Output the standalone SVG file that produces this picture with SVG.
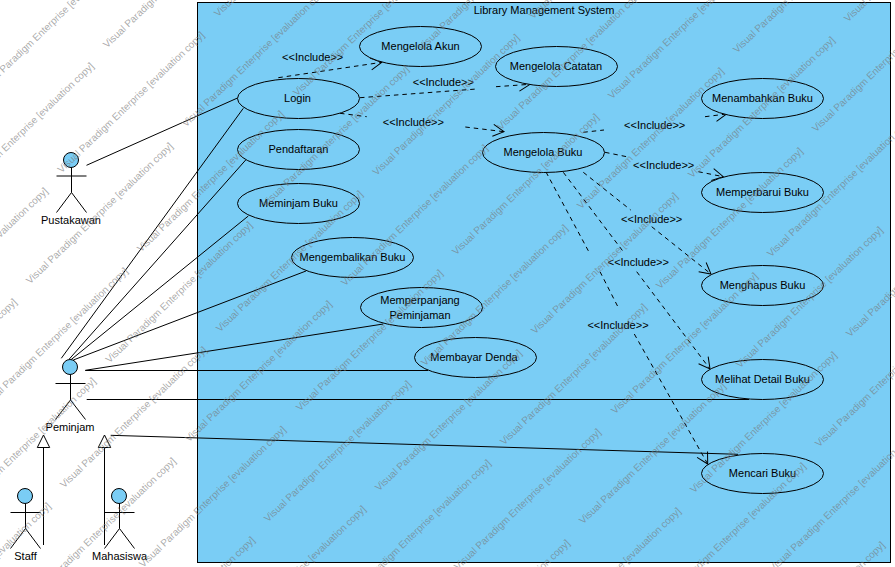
<svg xmlns="http://www.w3.org/2000/svg" width="895" height="567" viewBox="0 0 895 567">
<style>
text{font-family:"Liberation Sans",Arial,sans-serif;font-size:11px;fill:#000;text-anchor:middle}
.uc,.sys{fill:#7acdf5;stroke:#000;stroke-width:1}
.head{fill:#7acdf5;stroke:#000;stroke-width:1}
.st{fill:none;stroke:#000;stroke-width:1}
.tri{fill:#fff;stroke:#000;stroke-width:1}
.inc{fill:none;stroke:#000;stroke-width:1;stroke-dasharray:4.5 4;marker-end:url(#open)}
.wm text{font-size:10px;fill:#777;fill-opacity:.62;text-anchor:start}
</style>
<defs>
<marker id="open" markerUnits="userSpaceOnUse" markerWidth="16" markerHeight="18" refX="14" refY="8" orient="auto" overflow="visible">
<path d="M3,2 L14,8 L3,14" fill="none" stroke="#000" stroke-width="1"/>
</marker>
</defs>
<rect width="895" height="567" fill="#fff"/>
<g id="system"><rect class="sys" x="197.5" y="2.5" width="693" height="560"/><text x="544" y="13.5">Library Management System</text></g>
<g id="connectors">
<path class="st" d="M86.5,165.3L237.5,98M61.3,358.3L243.3,108.3M69.3,359L245.7,160M71,359.7L248.3,216M73.3,360L306,271M85.3,370.3L383.3,324M85.3,370.5H428M86.7,399.5H749M110.7,435.3L738,454.3"/>
<path class="st" d="M43.5,545V447.5M104.5,545V447.5"/>
<path class="tri" d="M43.5,435L37.3,447.5H49.7ZM104.5,435L98.3,447.5H110.7Z"/>
<path class="inc" d="M278.3,77.7L381.7,62.3"/>
<path class="inc" d="M360,97.7L476.7,89M496,86.7L530,84.3"/>
<path class="inc" d="M340,113.3L366.7,116.7M465.3,127L504,131.7"/>
<path class="inc" d="M583.3,132.3L604,130M705,116.7L726.7,114"/>
<path class="inc" d="M605,152.3L626.7,156.7M698.3,171.7L723.3,176.7"/>
<path class="inc" d="M583.3,172.3L630.7,210M651.7,226.7L711,274"/>
<path class="inc" d="M563.3,172.3L623.3,251.7M636.7,271.7L710,369"/>
<path class="inc" d="M546,172L589.5,253M600,271.7L618,307M634.3,334L707.7,464"/>
</g>
<g id="uc-akun"><ellipse class="uc" cx="420.5" cy="46.5" rx="61" ry="20"/><text x="420.5" y="50">Mengelola Akun</text></g>
<g id="uc-catatan"><ellipse class="uc" cx="556.5" cy="66.5" rx="61" ry="20"/><text x="556" y="70">Mengelola Catatan</text></g>
<g id="uc-login"><ellipse class="uc" cx="298.5" cy="98.5" rx="61" ry="20"/><text x="297.5" y="102">Login</text></g>
<g id="uc-pendaftaran"><ellipse class="uc" cx="298.5" cy="149.5" rx="61" ry="20"/><text x="298.5" y="153">Pendaftaran</text></g>
<g id="uc-meminjam"><ellipse class="uc" cx="298.5" cy="203.5" rx="61" ry="20"/><text x="298.5" y="207">Meminjam Buku</text></g>
<g id="uc-mengembalikan"><ellipse class="uc" cx="352.5" cy="257.5" rx="61" ry="20"/><text x="352.5" y="261">Mengembalikan Buku</text></g>
<g id="uc-memperpanjang"><ellipse class="uc" cx="421.5" cy="307.5" rx="61" ry="20"/><text x="420" y="304">Memperpanjang</text><text x="420" y="318.5">Peminjaman</text></g>
<g id="uc-membayar"><ellipse class="uc" cx="475.5" cy="357.5" rx="61" ry="20"/><text x="474" y="361">Membayar Denda</text></g>
<g id="uc-buku"><ellipse class="uc" cx="543.5" cy="152.5" rx="61" ry="20"/><text x="543" y="156">Mengelola Buku</text></g>
<g id="uc-menambahkan"><ellipse class="uc" cx="762.5" cy="98.5" rx="61" ry="20"/><text x="762.5" y="102">Menambahkan Buku</text></g>
<g id="uc-memperbarui"><ellipse class="uc" cx="762.5" cy="192.5" rx="61" ry="20"/><text x="762.5" y="196">Memperbarui Buku</text></g>
<g id="uc-menghapus"><ellipse class="uc" cx="762.5" cy="285.5" rx="61" ry="20"/><text x="762.5" y="289">Menghapus Buku</text></g>
<g id="uc-melihat"><ellipse class="uc" cx="762.5" cy="379.5" rx="61" ry="20"/><text x="762.5" y="383">Melihat Detail Buku</text></g>
<g id="uc-mencari"><ellipse class="uc" cx="762.5" cy="473.5" rx="61" ry="20"/><text x="762.5" y="477">Mencari Buku</text></g>
<g id="actor-pustakawan"><circle class="head" cx="71" cy="160" r="7.5"/><path class="st" d="M71.5,167.5V192.5M56.5,176H86.5M71.5,192.5L56.5,212.5M71.5,192.5L86.5,212.5"/><text x="71" y="224">Pustakawan</text></g>
<g id="actor-peminjam"><circle class="head" cx="70" cy="367" r="7.5"/><path class="st" d="M70.5,374.5V400M55.5,383.5H85.5M70.5,400L55.5,419.5M70.5,400L85.5,419.5"/><text x="70" y="431">Peminjam</text></g>
<g id="actor-staff"><circle class="head" cx="25" cy="496" r="7.5"/><path class="st" d="M25.5,503.5V528.5M10.5,512.5H40.5M25.5,528.5L10.5,548.5M25.5,528.5L40.5,548.5"/><text x="25.5" y="559.5">Staff</text></g>
<g id="actor-mahasiswa"><circle class="head" cx="119" cy="496" r="7.5"/><path class="st" d="M119.5,503.5V528.5M104.5,512.5H134.5M119.5,528.5L104.5,548.5M119.5,528.5L134.5,548.5"/><text x="119.5" y="559.5">Mahasiswa</text></g>
<g id="labels">
<text x="312.7" y="61">&lt;&lt;Include&gt;&gt;</text>
<text x="443.3" y="86">&lt;&lt;Include&gt;&gt;</text>
<text x="413.3" y="126">&lt;&lt;Include&gt;&gt;</text>
<text x="654.7" y="129">&lt;&lt;Include&gt;&gt;</text>
<text x="663.7" y="169">&lt;&lt;Include&gt;&gt;</text>
<text x="651.7" y="223">&lt;&lt;Include&gt;&gt;</text>
<text x="638.3" y="266">&lt;&lt;Include&gt;&gt;</text>
<text x="618" y="329">&lt;&lt;Include&gt;&gt;</text>
</g>
<g class="wm" transform="translate(4,1.5)">
<text transform="translate(-22,92.5) rotate(-43.8)">Visual Paradigm Enterprise [evaluation copy]</text>
<text transform="translate(-53,203) rotate(-43.8)">Visual Paradigm Enterprise [evaluation copy]</text>
<text transform="translate(103,47) rotate(-43.8)">Visual Paradigm Enterprise [evaluation copy]</text>
<text transform="translate(-99,328) rotate(-43.8)">Visual Paradigm Enterprise [evaluation copy]</text>
<text transform="translate(57.5,172) rotate(-43.8)">Visual Paradigm Enterprise [evaluation copy]</text>
<text transform="translate(214,15.7) rotate(-43.8)">Visual Paradigm Enterprise [evaluation copy]</text>
<text transform="translate(-130,439) rotate(-43.8)">Visual Paradigm Enterprise [evaluation copy]</text>
<text transform="translate(26,283) rotate(-43.8)">Visual Paradigm Enterprise [evaluation copy]</text>
<text transform="translate(182,126) rotate(-43.8)">Visual Paradigm Enterprise [evaluation copy]</text>
<text transform="translate(-19,408) rotate(-43.8)">Visual Paradigm Enterprise [evaluation copy]</text>
<text transform="translate(137,251) rotate(-43.8)">Visual Paradigm Enterprise [evaluation copy]</text>
<text transform="translate(293,95) rotate(-43.8)">Visual Paradigm Enterprise [evaluation copy]</text>
<text transform="translate(-51,518) rotate(-43.8)">Visual Paradigm Enterprise [evaluation copy]</text>
<text transform="translate(105.5,362) rotate(-43.8)">Visual Paradigm Enterprise [evaluation copy]</text>
<text transform="translate(262,206) rotate(-43.8)">Visual Paradigm Enterprise [evaluation copy]</text>
<text transform="translate(418,49.5) rotate(-43.8)">Visual Paradigm Enterprise [evaluation copy]</text>
<text transform="translate(-96,643) rotate(-43.8)">Visual Paradigm Enterprise [evaluation copy]</text>
<text transform="translate(60,487) rotate(-43.8)">Visual Paradigm Enterprise [evaluation copy]</text>
<text transform="translate(216,331) rotate(-43.8)">Visual Paradigm Enterprise [evaluation copy]</text>
<text transform="translate(372.5,174.5) rotate(-43.8)">Visual Paradigm Enterprise [evaluation copy]</text>
<text transform="translate(529,18) rotate(-43.8)">Visual Paradigm Enterprise [evaluation copy]</text>
<text transform="translate(29,598) rotate(-43.8)">Visual Paradigm Enterprise [evaluation copy]</text>
<text transform="translate(185,441) rotate(-43.8)">Visual Paradigm Enterprise [evaluation copy]</text>
<text transform="translate(341,285) rotate(-43.8)">Visual Paradigm Enterprise [evaluation copy]</text>
<text transform="translate(497,129) rotate(-43.8)">Visual Paradigm Enterprise [evaluation copy]</text>
<text transform="translate(139,566.5) rotate(-43.8)">Visual Paradigm Enterprise [evaluation copy]</text>
<text transform="translate(296,410) rotate(-43.8)">Visual Paradigm Enterprise [evaluation copy]</text>
<text transform="translate(452,254) rotate(-43.8)">Visual Paradigm Enterprise [evaluation copy]</text>
<text transform="translate(608,98) rotate(-43.8)">Visual Paradigm Enterprise [evaluation copy]</text>
<text transform="translate(108,677) rotate(-43.8)">Visual Paradigm Enterprise [evaluation copy]</text>
<text transform="translate(264,521) rotate(-43.8)">Visual Paradigm Enterprise [evaluation copy]</text>
<text transform="translate(421,365) rotate(-43.8)">Visual Paradigm Enterprise [evaluation copy]</text>
<text transform="translate(577,208) rotate(-43.8)">Visual Paradigm Enterprise [evaluation copy]</text>
<text transform="translate(733,52) rotate(-43.8)">Visual Paradigm Enterprise [evaluation copy]</text>
<text transform="translate(219,646) rotate(-43.8)">Visual Paradigm Enterprise [evaluation copy]</text>
<text transform="translate(375,490) rotate(-43.8)">Visual Paradigm Enterprise [evaluation copy]</text>
<text transform="translate(531,333) rotate(-43.8)">Visual Paradigm Enterprise [evaluation copy]</text>
<text transform="translate(688,177) rotate(-43.8)">Visual Paradigm Enterprise [evaluation copy]</text>
<text transform="translate(844,21) rotate(-43.8)">Visual Paradigm Enterprise [evaluation copy]</text>
<text transform="translate(344,600) rotate(-43.8)">Visual Paradigm Enterprise [evaluation copy]</text>
<text transform="translate(500,444) rotate(-43.8)">Visual Paradigm Enterprise [evaluation copy]</text>
<text transform="translate(656,288) rotate(-43.8)">Visual Paradigm Enterprise [evaluation copy]</text>
<text transform="translate(812,131) rotate(-43.8)">Visual Paradigm Enterprise [evaluation copy]</text>
<text transform="translate(454,569) rotate(-43.8)">Visual Paradigm Enterprise [evaluation copy]</text>
<text transform="translate(611,413) rotate(-43.8)">Visual Paradigm Enterprise [evaluation copy]</text>
<text transform="translate(767,256) rotate(-43.8)">Visual Paradigm Enterprise [evaluation copy]</text>
<text transform="translate(423,680) rotate(-43.8)">Visual Paradigm Enterprise [evaluation copy]</text>
<text transform="translate(579,523) rotate(-43.8)">Visual Paradigm Enterprise [evaluation copy]</text>
<text transform="translate(736,367) rotate(-43.8)">Visual Paradigm Enterprise [evaluation copy]</text>
<text transform="translate(534,648) rotate(-43.8)">Visual Paradigm Enterprise [evaluation copy]</text>
<text transform="translate(690,492) rotate(-43.8)">Visual Paradigm Enterprise [evaluation copy]</text>
<text transform="translate(846,336) rotate(-43.8)">Visual Paradigm Enterprise [evaluation copy]</text>
<text transform="translate(659,603) rotate(-43.8)">Visual Paradigm Enterprise [evaluation copy]</text>
<text transform="translate(815,446) rotate(-43.8)">Visual Paradigm Enterprise [evaluation copy]</text>
<text transform="translate(769,571) rotate(-43.8)">Visual Paradigm Enterprise [evaluation copy]</text>
<text transform="translate(738,682) rotate(-43.8)">Visual Paradigm Enterprise [evaluation copy]</text>
</g>
</svg>
